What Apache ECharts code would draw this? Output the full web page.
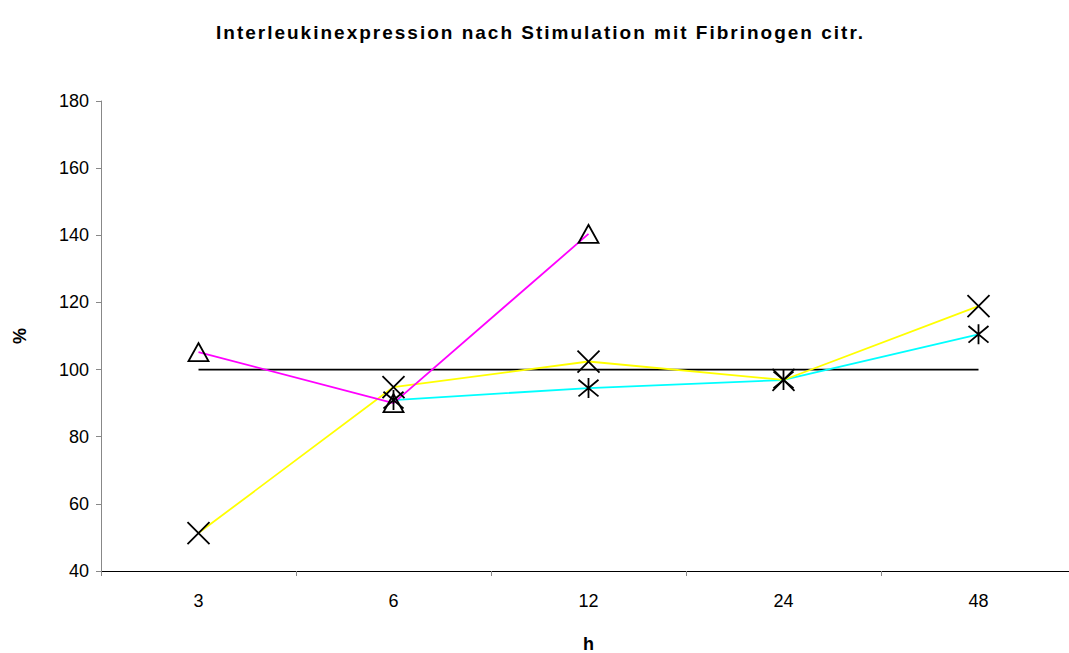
<!DOCTYPE html>
<html><head><meta charset="utf-8">
<script src="https://cdn.jsdelivr.net/npm/echarts@6/dist/echarts.min.js"></script>
<style>html,body{margin:0;padding:0;background:#fff}#c{width:1069px;height:653px}</style>
</head><body><div id="c"></div>
<script>
const categories = ['3', '6', '12', '24', '48'];
const magentaValues = [105.2, 90, 140.4, null, null];
const yellowValues = [51.3, 94.8, 102.4, 96.9, 118.9];
const cyanValues = [null, 90.9, 94.5, 96.9, 110.5];
const referenceValues = [100, 100, 100, 100, 100];
const yTicks = { min: 40, max: 180, interval: 20 };
const titleText = 'Interleukinexpression nach Stimulation mit Fibrinogen citr.';

const X = 'path://M0,0L20,20M20,0L0,20';
const AST = 'path://M0,0L20,20M20,0L0,20M10,-2L10,22';
const TRI = 'path://M10,0L20,18L0,18Z';
const mk = (name, data, color, sym, size) => ({
  name, type: 'line', data, symbol: sym || 'none', symbolSize: size,
  showSymbol: !!sym, connectNulls: false, animation: false,
  lineStyle: { color, width: 1.8 },
  itemStyle: { color: 'rgba(0,0,0,0)', borderColor: '#000', borderWidth: 1.8 },
  emphasis: { disabled: true }
});
const chart = echarts.init(document.getElementById('c'), null, { renderer: 'svg' });
chart.setOption({
  backgroundColor: '#fff',
  animation: false,
  title: { text: titleText, left: 211, top: 18,
    textStyle: { fontFamily: 'Liberation Sans', fontWeight: 'bold', fontSize: 19, color: '#000' } },
  grid: { left: 101, top: 101, width: 975, height: 470, outerBoundsMode: 'none', containLabel: false },
  xAxis: { type: 'category', data: categories, boundaryGap: true, name: 'h', nameLocation: 'middle', nameGap: 64,
    nameTextStyle: { fontFamily: 'Liberation Sans', fontWeight: 'bold', fontSize: 18, color: '#000' },
    axisLine: { lineStyle: { color: '#000', width: 1 } },
    axisTick: { show: true, length: 5, inside: false, alignWithLabel: false, lineStyle: { color: '#888' } },
    axisLabel: { fontFamily: 'Liberation Sans', fontSize: 18, color: '#000', margin: 21 } },
  yAxis: { type: 'value', min: yTicks.min, max: yTicks.max, interval: yTicks.interval, name: '%', nameLocation: 'middle', nameGap: 72,
    nameRotate: 90,
    nameTextStyle: { fontFamily: 'Liberation Sans', fontWeight: 'bold', fontSize: 18, color: '#000' },
    axisLine: { show: true, lineStyle: { color: '#888', width: 1 } },
    axisTick: { show: true, length: 5, lineStyle: { color: '#888' } },
    splitLine: { show: false },
    axisLabel: { fontFamily: 'Liberation Sans', fontSize: 18, color: '#000', margin: 12 } },
  series: [
    mk('ref', referenceValues, '#000', null),
    mk('cyan', cyanValues, '#00ffff', AST, [20, 20]),
    mk('yellow', yellowValues, '#ffff00', X, [22, 22]),
    mk('magenta', magentaValues, '#ff00ff', TRI, [20, 18])
  ]
});
document.querySelectorAll('#c text').forEach(t => {
  if (t.textContent === titleText) t.setAttribute('letter-spacing', '2');
});
</script></body></html>
